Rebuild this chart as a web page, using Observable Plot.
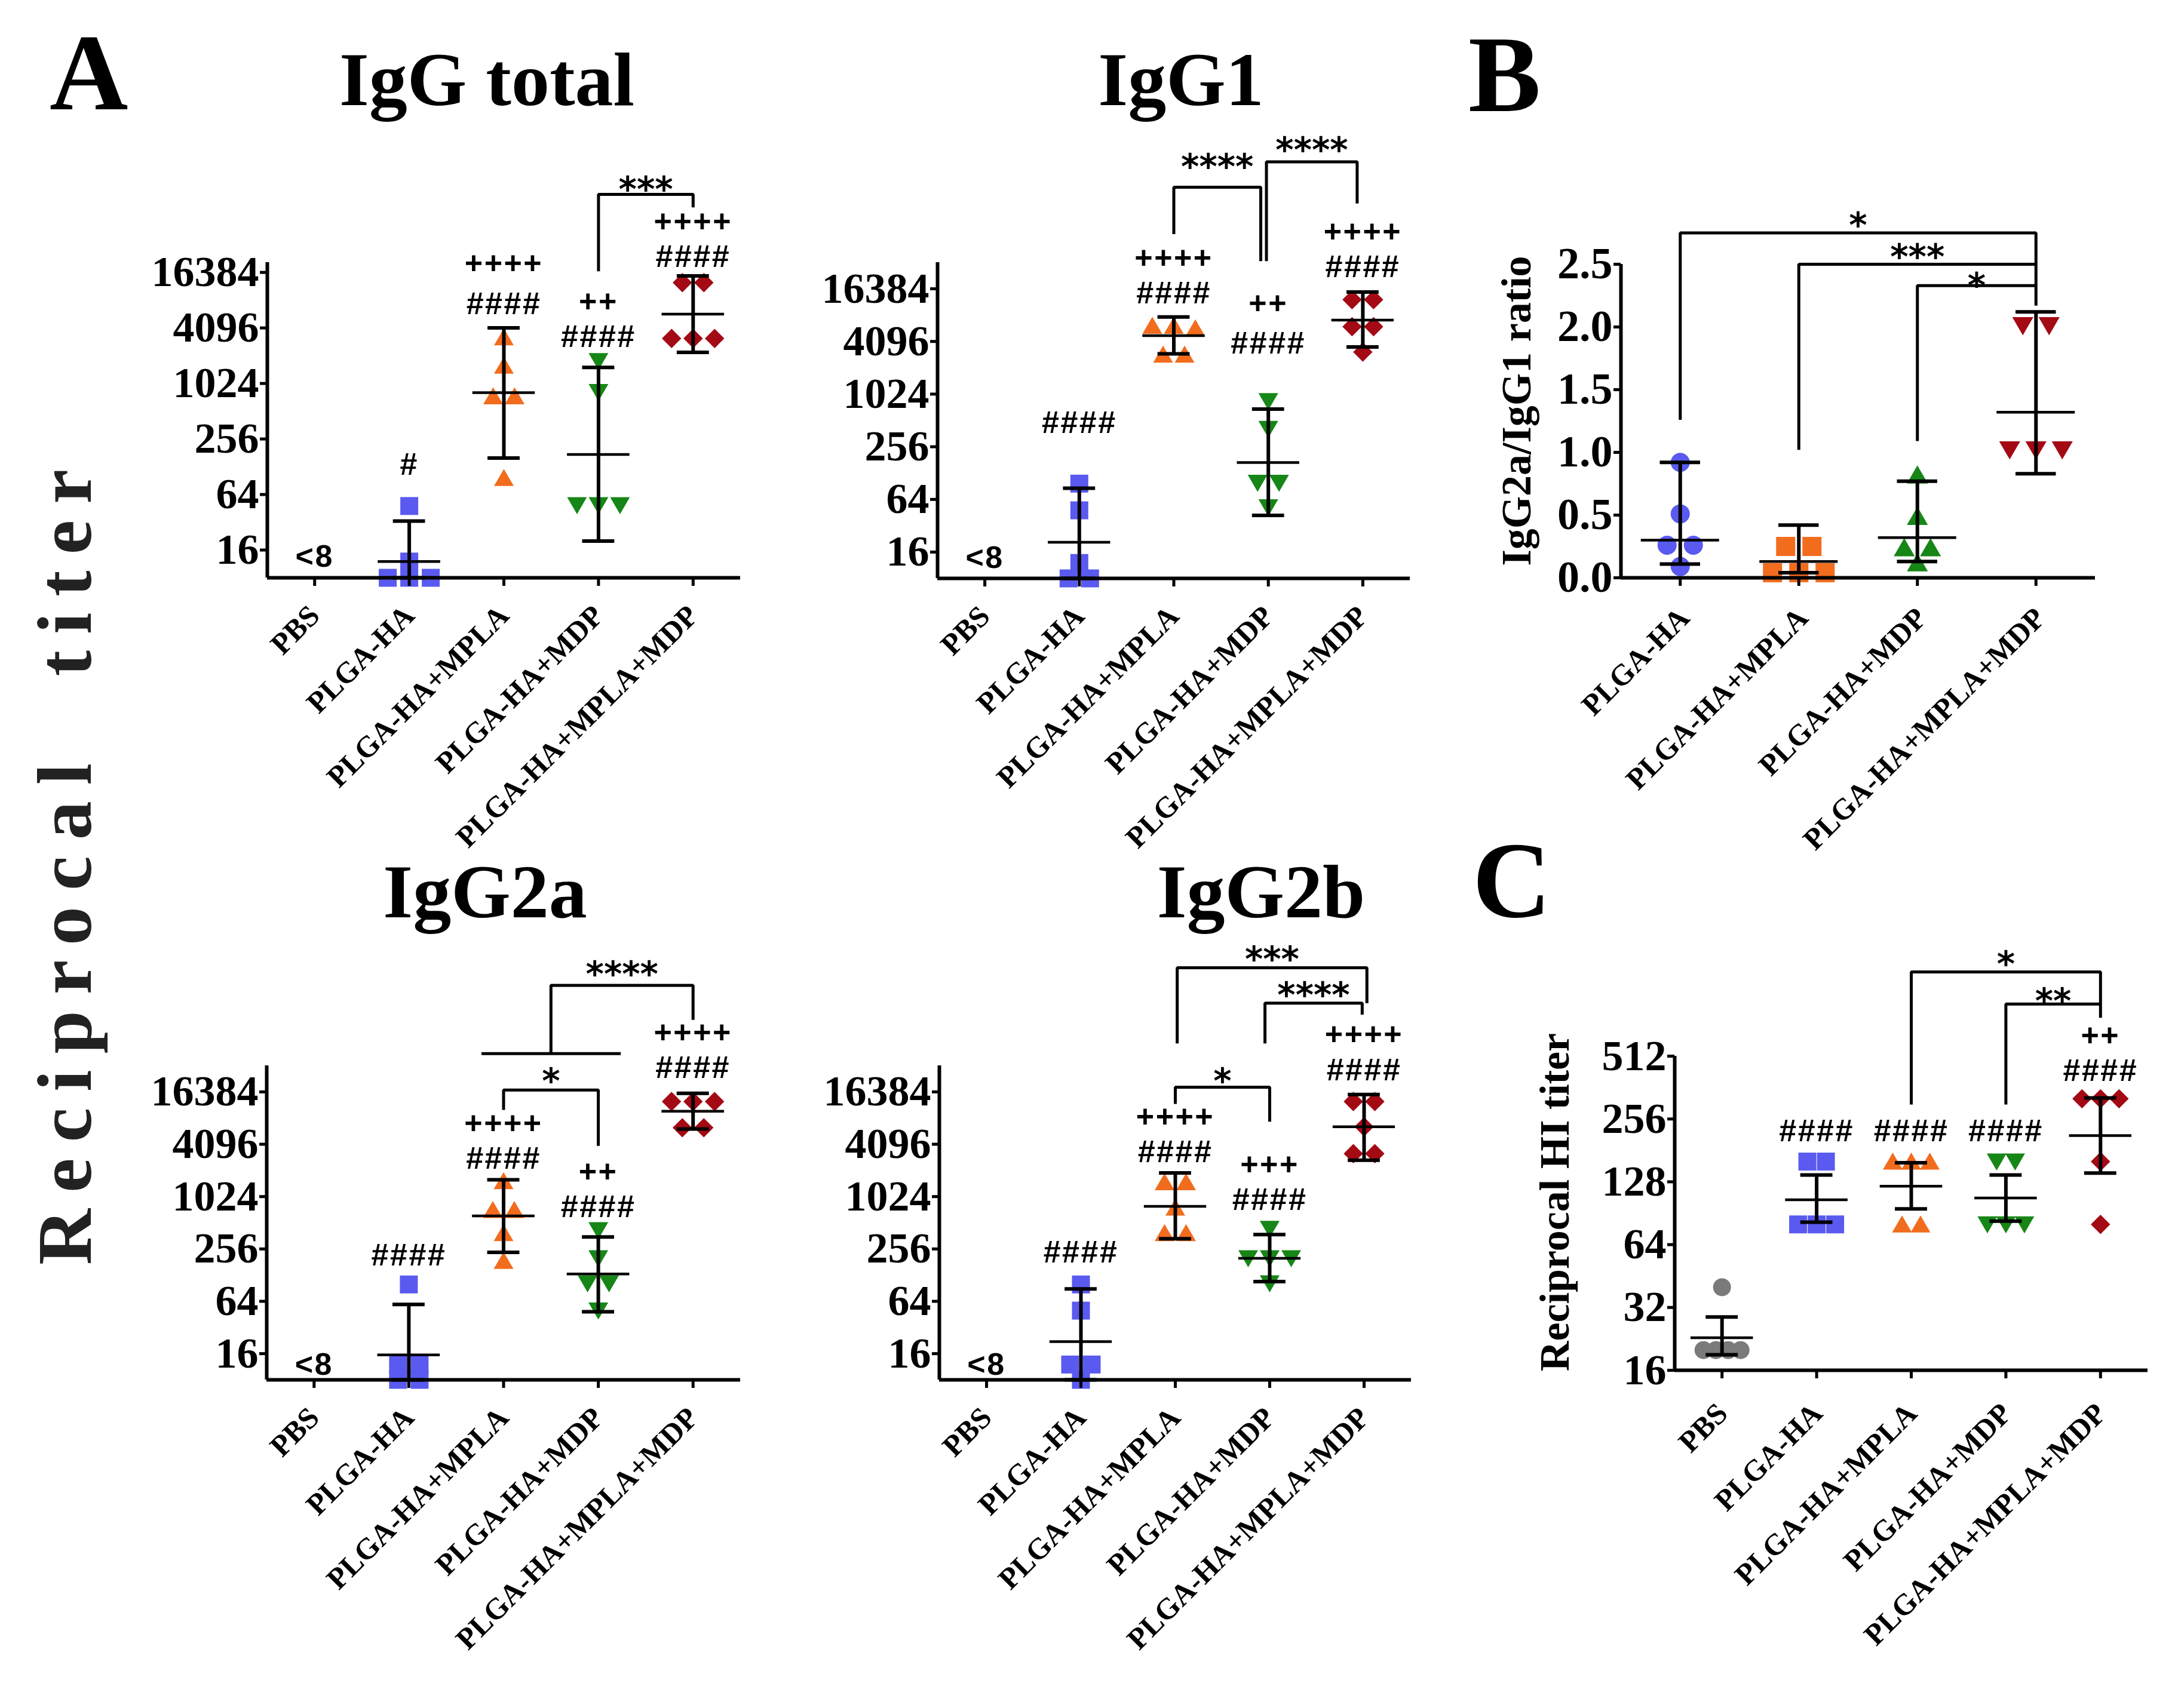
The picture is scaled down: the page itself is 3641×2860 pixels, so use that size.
<!DOCTYPE html>
<html><head><meta charset="utf-8">
<script src="https://cdn.jsdelivr.net/npm/d3@7"></script>
<script src="https://cdn.jsdelivr.net/npm/@observablehq/plot@0.6"></script>
<style>
html,body{margin:0;padding:0;background:#fff;}
#fig{position:relative;width:3641px;height:2860px;overflow:hidden;background:#fff;}
.panel{position:absolute;}
</style></head><body><div id="fig"></div>
<script>
// ---------- categories & tick labels ----------
const groups = ["PBS","PLGA-HA","PLGA-HA+MPLA","PLGA-HA+MDP","PLGA-HA+MPLA+MDP"];
const ratioGroups = ["PLGA-HA","PLGA-HA+MPLA","PLGA-HA+MDP","PLGA-HA+MPLA+MDP"];
const titerTicks = [16, 64, 256, 1024, 4096, 16384];
const hiTicks = [16, 32, 64, 128, 256, 512];
const ratioTicks = [0, 0.5, 1.0, 1.5, 2.0, 2.5];

// ---------- IgG total ----------
const totalValues = [[], [48,12,8,8,8], [3240,1600,745,745,97], [1790,825,49,49,49], [12700,12700,3150,3150,3150]];
const totalMean = [null, 12, 815, 174, 5790];
const totalLow  = [null, 8, 159, 20, 2230];
const totalHigh = [null, 33, 4100, 1530, 15000];
// [group, text, height (log2 units)]
const totalLabels = [[0,"<8",3.76],[1,"#",7.07],[2,"++++",14.32],[2,"####",12.85],[3,"++",12.85],[3,"####",11.75],[4,"++++",15.71],[4,"####",14.67]];
const totalBrackets = [{from:3,to:4,top:16.81,left:14.04,right:16.34,text:"***",ty:17.27}];

// ---------- IgG1 ----------
const g1Values = [[], [97,48,12,8,8], [6200,6200,5800,2900,2900], [850,410,99,99,52], [12300,12300,6040,6040,3100]];
const g1Mean = [null, 20.7, 4770, 169, 7180];
const g1Low  = [null, 8, 2960, 42, 3540];
const g1High = [null, 86, 7800, 690, 15070];
const g1Labels = [[0,"<8",3.77],[1,"####",8.91],[2,"++++",15.05],[2,"####",13.95],[3,"++",13.43],[3,"####",11.92],[4,"++++",16.0],[4,"####",14.98]];
const g1Brackets = [
  {from:2,to:2.92,top:17.86,left:16.08,right:15.05,text:"****",ty:18.93},
  {from:2.98,to:3.94,top:18.82,left:15.05,right:17.24,text:"****",ty:19.55}];

// ---------- IgG2a ----------
const g2aValues = [[], [100,12,12,8,8], [1540,720,720,390,187], [420,200,103,103,50], [12700,12700,12700,6340,6340]];
const g2aMean = [null, 15.5, 613, 132, 9800];
const g2aLow  = [null, 8, 234, 48.5, 6120];
const g2aHigh = [null, 59, 1600, 352, 15800];
const g2aLabels = [[0,"<8",3.57],[1,"####",7.75],[2,"++++",12.67],[2,"####",11.57],[3,"++",10.86],[3,"####",9.67],[4,"++++",16.2],[4,"####",14.98]];
const g2aBrackets = [
  {from:2,to:3,top:14.07,left:13.31,right:11.94,text:"*",ty:14.71},
  {from:2.5,to:4,top:18.07,left:15.46,right:16.75,text:"****",ty:18.78,base:[1.77,3.24]}];

// ---------- IgG2b ----------
const g2bValues = [[], [100,50,12,12,8], [1500,1500,765,390,390], [435,200,200,200,103], [12700,12700,6500,3190,3190]];
const g2bMean = [null, 22, 790, 200, 6510];
const g2bLow  = [null, 8, 335, 108, 2680];
const g2bHigh = [null, 89, 1920, 375, 15280];
const g2bLabels = [[0,"<8",3.57],[1,"####",7.87],[2,"++++",12.95],[2,"####",11.78],[3,"+++",11.07],[3,"####",10.0],[4,"++++",16.2],[4,"####",14.82]];
const g2bBrackets = [
  {from:2,to:3,top:14.18,left:13.54,right:12.86,text:"*",ty:14.71},
  {from:2.02,to:4.03,top:18.74,left:15.85,right:17.39,text:"***",ty:19.36},
  {from:2.95,to:3.98,top:17.39,left:15.85,right:16.95,text:"****",ty:17.98}];

// ---------- B: IgG2a/IgG1 ratio ----------
const ratioValues = [[0.92,0.51,0.26,0.26,0.09], [0.25,0.25,0.04,0.04,0.04], [0.82,0.49,0.24,0.24,0.12], [2.01,2.01,1.02,1.02,1.02]];
const ratioMean = [0.30, 0.13, 0.32, 1.32];
const ratioLow  = [0.11, 0.04, 0.13, 0.83];
const ratioHigh = [0.92, 0.42, 0.77, 2.12];
const ratioLabels = [];
const ratioBrackets = [
  {from:0,to:3,top:2.75,left:1.26,right:2.5,text:"*",ty:2.87},
  {from:1,to:3,top:2.5,left:1.02,right:2.33,text:"***",ty:2.62},
  {from:2,to:3,top:2.33,left:1.09,right:2.17,text:"*",ty:2.39}];

// ---------- C: HI titer ----------
const hiValues = [[40,20,20,20,20], [160,160,80,80,80], [160,160,160,80,80], [160,160,80,80,80], [320,320,320,160,80]];
const hiMean = [22.9, 105, 122, 107, 213];
const hiLow  = [19.0, 82, 95, 83, 141];
const hiHigh = [28.8, 138, 158, 138, 323];
const hiLabels = [[1,"####",7.8],[2,"####",7.8],[3,"####",7.8],[4,"++",9.27],[4,"####",8.82]];
const hiBrackets = [
  {from:2,to:4,top:10.34,left:8.23,right:9.83,text:"*",ty:10.59},
  {from:3,to:4,top:9.83,left:8.23,right:9.61,text:"**",ty:10.0}];

// ---------- text around the panels ----------
const panelLetters = [["A",83,183],["B",2458,186],["C",2465,1535]];
const panelTitles = [["IgG total",815,176],["IgG1",1977,176],["IgG2a",812,1536],["IgG2b",2111,1536]];

// ---------- styles ----------
const SERIF = "'Liberation Serif','Times New Roman',serif";
const SANS = "'Liberation Sans',Arial,sans-serif";
const STAR = "'DejaVu Sans',sans-serif";
const BLUE = "#5a5af0", ORANGE = "#f26c1e", GREEN = "#168616", RED = "#a30a14", GRAY = "#7a7a7a";
const LABEL_FONT = 52;
const LABEL_MIN_GAP = 59;

const sym = {
  square: {draw(c, s) { const r = Math.sqrt(s / Math.PI); c.rect(-r, -r, 2 * r, 2 * r); }},
  up: {draw(c, s) { const r = Math.sqrt(s / Math.PI); c.moveTo(0, -r); c.lineTo(r * 1.1, r * 0.9); c.lineTo(-r * 1.1, r * 0.9); c.closePath(); }},
  down: {draw(c, s) { const r = Math.sqrt(s / Math.PI); c.moveTo(0, r); c.lineTo(r * 1.1, -r * 0.9); c.lineTo(-r * 1.1, -r * 0.9); c.closePath(); }},
  diamond: {draw(c, s) { const r = Math.sqrt(s / Math.PI) * 1.08; c.moveTo(0, -r); c.lineTo(r, 0); c.lineTo(0, r); c.lineTo(-r, 0); c.closePath(); }},
  circle: {draw(c, s) { const r = Math.sqrt(s / Math.PI); c.moveTo(r, 0); c.arc(0, 0, r, 0, 2 * Math.PI); }}
};

const fig = document.getElementById("fig");

// spread points of equal-ish value side by side (scatter dot plot)
function layoutPoints(values, unit, pxPerUnit, stepPx, spacingPx) {
  const out = [];
  values.forEach((vals, g) => {
    const sorted = vals.map(v => ({v, u: unit(v)})).sort((a, b) => b.u - a.u);
    const clusters = [];
    for (const p of sorted) {
      const last = clusters[clusters.length - 1];
      if (last && (last[0].u - p.u) * pxPerUnit < 24) last.push(p); else clusters.push([p]);
    }
    for (const cl of clusters) {
      const k = cl.length;
      const sp = k > 1 ? Math.min(spacingPx, 2 * spacingPx / (k - 1)) : 0;
      cl.forEach((p, j) => out.push({g, v: p.v, x: g + (j - (k - 1) / 2) * sp / stepPx}));
    }
  });
  return out;
}

// stack the labels of one group into a single multi-line text
function stackLabels(labels, pxPerUnit) {
  const byGroup = d3.groups(labels, d => d[0]);
  return byGroup.map(([g, items]) => {
    items.sort((a, b) => b[2] - a[2]);
    if (items.length === 1) return {g, text: items[0][1], level: items[0][2], lh: 1, n: 1};
    const top = items[0], bottom = items[items.length - 1];
    const gapPx = Math.max(LABEL_MIN_GAP, (top[2] - bottom[2]) * pxPerUnit / (items.length - 1));
    return {g, text: items.map(d => d[1]).join("\n"), level: (top[2] + bottom[2]) / 2, lh: gapPx / LABEL_FONT, n: items.length};
  });
}

function panel(cfg) {
  const {box, axis, cats, log, domain, ticks, tickFormat, tickFont, values, mean, low, high,
         labels, brackets, symbols, colors, spacing, r, labelDx, labelDy} = cfg;
  const n = cats.length;
  const unit = log ? Math.log2 : (v => v);
  const lv = log ? (l => 2 ** l) : (l => l);
  const pxPerUnit = (axis.bottom - axis.top) / (unit(domain[1]) - unit(domain[0]));
  const stepPx = (axis.right - axis.left) / n;
  const pts = layoutPoints(values, unit, pxPerUnit, stepPx, spacing);
  const stats = mean.map((m, g) => ({g, mean: m, lo: low[g], hi: high[g]})).filter(d => d.mean != null);
  const capW = 0.17, meanW = 0.33;
  const marks = [];
  values.forEach((vals, g) => {
    if (!vals.length) return;
    marks.push(Plot.dot(pts.filter(p => p.g === g), {x: "x", y: "v", symbol: symbols[g], r, fill: colors[g], stroke: "none"}));
  });
  marks.push(Plot.ruleX(stats, {x: "g", y1: "lo", y2: "hi", stroke: "#000", strokeWidth: 6}));
  marks.push(Plot.ruleY(stats, {y: "hi", x1: d => d.g - capW, x2: d => d.g + capW, stroke: "#000", strokeWidth: 6}));
  marks.push(Plot.ruleY(stats, {y: "lo", x1: d => d.g - capW, x2: d => d.g + capW, stroke: "#000", strokeWidth: 6}));
  marks.push(Plot.ruleY(stats, {y: "mean", x1: d => d.g - meanW, x2: d => d.g + meanW, stroke: "#000", strokeWidth: 4.5}));
  // axis lines
  marks.push(Plot.ruleY([domain[0]], {x1: () => -0.5, x2: () => n - 0.5, stroke: "#000", strokeWidth: 6}));
  marks.push(Plot.ruleX([-0.5], {y1: () => domain[0], y2: () => domain[1], stroke: "#000", strokeWidth: 6}));
  marks.push(Plot.axisY({anchor: "left", ticks, tickFormat, tickSize: 12, tickPadding: 2, strokeWidth: 5,
    fontSize: tickFont, fontFamily: SERIF, fontWeight: "bold", fill: "#000"}));
  marks.push(Plot.axisX({anchor: "bottom", ticks: d3.range(n), tickFormat: () => "", tickSize: 14, strokeWidth: 5}));
  // category labels
  marks.push(Plot.text(cats.map((c, i) => ({i, c})), {x: "i", y: () => domain[0], text: "c", rotate: -45,
    textAnchor: "end", lineAnchor: "middle", dx: labelDx, dy: labelDy, fontSize: 50, fontFamily: SERIF, fontWeight: "bold", fill: "#000"}));
  // significance text (one text per group, stacked lines)
  for (const s of stackLabels(labels, pxPerUnit)) {
    const shift = s.n > 1 ? (0.32 - 0.32 * s.lh) * LABEL_FONT : 0;
    marks.push(Plot.text([s], {x: "g", y: d => lv(d.level), text: "text", lineHeight: s.lh, dy: shift,
      fontFamily: SANS, fontWeight: "bold", fontSize: LABEL_FONT, fill: "#000"}));
  }
  // brackets
  const bpts = brackets.flatMap((b, id) => [
    {id, x: b.from, y: lv(b.left)}, {id, x: b.from, y: lv(b.top)},
    {id, x: b.to, y: lv(b.top)}, {id, x: b.to, y: lv(b.right)}]);
  marks.push(Plot.line(bpts, {x: "x", y: "y", z: "id", stroke: "#000", strokeWidth: 5, strokeLinejoin: "miter", strokeLinecap: "butt"}));
  const bases = brackets.filter(b => b.base);
  if (bases.length) marks.push(Plot.ruleY(bases, {y: b => lv(b.left), x1: b => b.base[0], x2: b => b.base[1], stroke: "#000", strokeWidth: 5}));
  marks.push(Plot.text(brackets, {x: b => (b.from + b.to) / 2, y: b => lv(b.ty), text: "text", dy: 14,
    fontFamily: STAR, fontWeight: "bold", fontSize: 58, fill: "#000"}));

  const svg = Plot.plot({
    width: box.w, height: box.h,
    marginLeft: axis.left - box.x, marginRight: box.x + box.w - axis.right,
    marginTop: axis.top - box.y, marginBottom: box.y + box.h - axis.bottom,
    x: {type: "linear", domain: [-0.5, n - 0.5]},
    y: log ? {type: "log", base: 2, domain} : {type: "linear", domain},
    style: {background: "transparent", overflow: "visible", maxWidth: "none", fontFamily: SERIF},
    marks
  });
  // slightly wider spacing for the significance symbols
  svg.querySelectorAll("g").forEach(el => { if (el.getAttribute("font-family") === SANS) el.setAttribute("letter-spacing", "2.5"); });
  const div = document.createElement("div");
  div.className = "panel";
  div.style.left = box.x + "px"; div.style.top = box.y + "px";
  div.appendChild(svg);
  fig.appendChild(div);
}

const titerSymbols = [null, sym.square, sym.up, sym.down, sym.diamond];
const titerColors = [null, BLUE, ORANGE, GREEN, RED];
const fmtInt = d => String(d);
const common = {cats: groups, log: true, ticks: titerTicks, tickFormat: fmtInt, tickFont: 72,
  symbols: titerSymbols, colors: titerColors, spacing: 36, r: 15, labelDx: 0, labelDy: 55};

panel({...common, box: {x: 150, y: 200, w: 1120, h: 1230}, axis: {left: 447, right: 1239, top: 439, bottom: 967},
  domain: [8, 21000], values: totalValues, mean: totalMean, low: totalLow, high: totalHigh, labels: totalLabels, brackets: totalBrackets});
panel({...common, box: {x: 1280, y: 200, w: 1110, h: 1230}, axis: {left: 1569, right: 2360, top: 439, bottom: 968},
  domain: [8, 32768], values: g1Values, mean: g1Mean, low: g1Low, high: g1High, labels: g1Labels, brackets: g1Brackets});
panel({...common, box: {x: 150, y: 1600, w: 1120, h: 1260}, axis: {left: 446, right: 1239, top: 1784, bottom: 2310},
  domain: [8, 32768], values: g2aValues, mean: g2aMean, low: g2aLow, high: g2aHigh, labels: g2aLabels, brackets: g2aBrackets});
panel({...common, box: {x: 1280, y: 1600, w: 1110, h: 1260}, axis: {left: 1572, right: 2362, top: 1784, bottom: 2310},
  domain: [8, 32768], values: g2bValues, mean: g2bMean, low: g2bLow, high: g2bHigh, labels: g2bLabels, brackets: g2bBrackets});
panel({box: {x: 2560, y: 300, w: 1000, h: 1180}, axis: {left: 2713, right: 3507, top: 442, bottom: 967},
  cats: ratioGroups, log: false, domain: [0, 2.5], ticks: ratioTicks, tickFormat: d3.format(".1f"), tickFont: 74,
  values: ratioValues, mean: ratioMean, low: ratioLow, high: ratioHigh, labels: ratioLabels, brackets: ratioBrackets,
  symbols: [sym.circle, sym.square, sym.up, sym.down], colors: [BLUE, ORANGE, GREEN, RED], spacing: 44, r: 16, labelDx: 7, labelDy: 59});
panel({box: {x: 2650, y: 1560, w: 990, h: 1300}, axis: {left: 2803, right: 3595, top: 1768, bottom: 2294},
  cats: groups, log: true, domain: [16, 512], ticks: hiTicks, tickFormat: fmtInt, tickFont: 72,
  values: hiValues, mean: hiMean, low: hiLow, high: hiHigh, labels: hiLabels, brackets: hiBrackets,
  symbols: [sym.circle, sym.square, sym.up, sym.down, sym.diamond], colors: [GRAY, BLUE, ORANGE, GREEN, RED], spacing: 31, r: 15, labelDx: 1, labelDy: 64});

// ---------- overlay texts ----------
const ov = d3.select(fig).append("svg").attr("width", 3641).attr("height", 2860)
  .style("position", "absolute").style("left", 0).style("top", 0);
ov.selectAll("text.letter").data(panelLetters).join("text").attr("class", "letter")
  .attr("x", d => d[1]).attr("y", d => d[2]).text(d => d[0])
  .attr("font-family", SERIF).attr("font-weight", "bold").attr("font-size", 182);
ov.selectAll("text.title").data(panelTitles).join("text").attr("class", "title")
  .attr("x", d => d[1]).attr("y", d => d[2]).attr("text-anchor", "middle").text(d => d[0])
  .attr("font-family", SERIF).attr("font-weight", "bold").attr("font-size", 128);
ov.append("text").attr("transform", "translate(152,2118) rotate(-90)")
  .attr("font-family", SERIF).attr("font-weight", "bold").attr("font-size", 130).attr("letter-spacing", 27)
  .attr("fill", "#222").style("white-space", "pre").text("Reciprocal  titer");
ov.append("text").attr("transform", "translate(2562,688) rotate(-90)").attr("text-anchor", "middle")
  .attr("font-family", SERIF).attr("font-weight", "bold").attr("font-size", 70).text("IgG2a/IgG1 ratio");
ov.append("text").attr("transform", "translate(2626,2013) rotate(-90)").attr("text-anchor", "middle")
  .attr("font-family", SERIF).attr("font-weight", "bold").attr("font-size", 70).text("Reciprocal HI titer");
</script></body></html>
